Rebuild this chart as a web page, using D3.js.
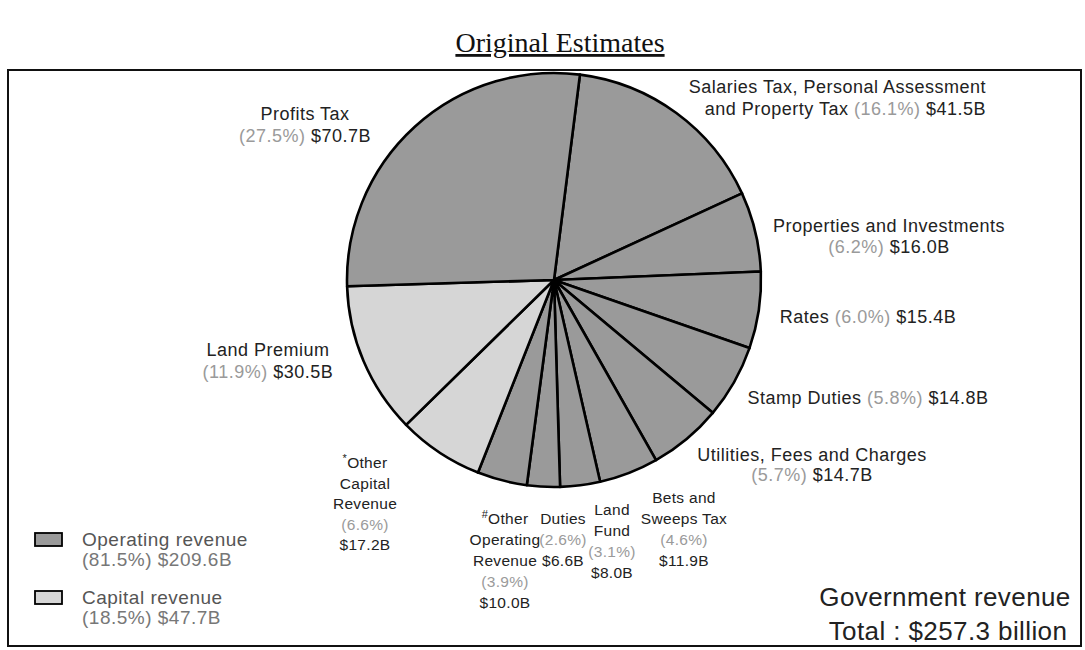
<!DOCTYPE html>
<html lang="en">
<head>
	<meta charset="UTF-8">
	<title>Original Estimates</title>
	<script src="https://cdn.jsdelivr.net/npm/d3@7"></script>
	<style>
		body { margin: 0; background: #fff; }
		text { font-family: Arial, "Liberation Sans", sans-serif; }
	</style>
</head>
<body>
	<div id="container"></div>
	<script>
		var width = 1085;
		var height = 650;

		// revenue items, clockwise from just right of 12 o'clock
		var items = ["Salaries Tax, Personal Assessment and Property Tax", "Properties and Investments", "Rates",
			"Stamp Duties", "Utilities, Fees and Charges", "Bets and Sweeps Tax", "Land Fund", "Duties",
			"#Other Operating Revenue", "*Other Capital Revenue", "Land Premium", "Profits Tax"];
		var amounts = [41.5, 16.0, 15.4, 14.8, 14.7, 11.9, 8.0, 6.6, 10.0, 17.2, 30.5, 70.7];
		var percents = [16.1, 6.2, 6.0, 5.8, 5.7, 4.6, 3.1, 2.6, 3.9, 6.6, 11.9, 27.5];
		var kinds = ["op", "op", "op", "op", "op", "op", "op", "op", "op", "cap", "cap", "op"];

		var groups = ["Operating revenue", "Capital revenue"];
		var groupPercents = [81.5, 18.5];
		var groupAmounts = [209.6, 47.7];

		var total = 257.3;

		// label layout: text lines per slice ({p}/{v} get filled in), placed by hand like the original
		var labelLines = [
			["Salaries Tax, Personal Assessment", "and Property Tax {p} {v}"],
			["Properties and Investments", "{p} {v}"],
			["Rates {p} {v}"],
			["Stamp Duties {p} {v}"],
			["Utilities, Fees and Charges", "{p} {v}"],
			["Bets and", "Sweeps Tax", "{p}", "{v}"],
			["Land", "Fund", "{p}", "{v}"],
			["Duties", "{p}", "{v}"],
			["#Other", "Operating", "Revenue", "{p}", "{v}"],
			["*Other", "Capital", "Revenue", "{p}", "{v}"],
			["Land Premium", "{p} {v}"],
			["Profits Tax", "{p} {v}"]
		];
		// [x, first baseline, line step, anchor, font size]
		var labelAt = [[986, 93, 22, "end", 18], [889, 232, 21, "middle", 18], [868, 323, 21, "middle", 18],
			[868, 404, 21, "middle", 18], [812, 461, 20, "middle", 18], [684, 503, 21, "middle", 15.5],
			[612, 515, 21, "middle", 15.5], [563, 524, 21, "middle", 15.5], [505, 524, 21, "middle", 15.5],
			[365, 468, 20.5, "middle", 15.5], [268, 356, 22, "middle", 18], [305, 120, 22, "middle", 18]];

		var fills = { op: "#9a9a9a", cap: "#d6d6d6" };

		var svg = d3.select("#container").append("svg")
			.attr("width", width)
			.attr("height", height);

		svg.append("rect")
			.attr("width", width).attr("height", height)
			.attr("fill", "#fff");

		// title
		svg.append("text")
			.attr("x", 560).attr("y", 52)
			.attr("text-anchor", "middle")
			.style("font-family", "'Liberation Serif', 'Times New Roman', serif")
			.style("font-size", "28px")
			.style("text-decoration", "underline")
			.attr("fill", "#111")
			.text("Original Estimates");

		// frame
		svg.append("rect")
			.attr("x", 8).attr("y", 70)
			.attr("width", 1073).attr("height", 576)
			.attr("fill", "none")
			.attr("stroke", "#111")
			.attr("stroke-width", 2);

		var cx = 554, cy = 280, r = 207;
		var start = 7.2 * Math.PI / 180;

		var pie = d3.pie().sort(null).value(d => d)
			.startAngle(start).endAngle(start + 2 * Math.PI);
		var arc = d3.arc().innerRadius(0).outerRadius(r);

		var g = svg.append("g").attr("transform", "translate(" + cx + "," + cy + ")");
		g.selectAll("path").data(pie(amounts))
			.enter().append("path")
				.attr("d", arc)
				.attr("fill", (d, i) => fills[kinds[i]])
				.attr("stroke", "#000")
				.attr("stroke-width", 2.6)
				.attr("stroke-linejoin", "round");

		// slice labels
		items.forEach((name, i) => {
			var L = labelAt[i];
			var t = svg.append("text")
				.attr("x", L[0]).attr("y", L[1])
				.attr("text-anchor", L[3])
				.style("font-size", L[4] + "px")
				.style("letter-spacing", L[4] > 16 ? "0.5px" : "0.3px")
				.attr("fill", "#222");
			labelLines[i].forEach((ln, k) => {
				var ts = t.append("tspan")
					.attr("x", L[0])
					.attr("dy", k == 0 ? 0 : L[2]);
				var parts = ln.split(/(\{p\}|\{v\})/);
				parts.forEach(p => {
					if (p == "") return;
					if (p == "{p}") ts.append("tspan").attr("fill", "#9a9a9a").text("(" + percents[i].toFixed(1) + "%)");
					else if (p == "{v}") ts.append("tspan").text("$" + amounts[i].toFixed(1) + "B");
					else if (p[0] == "*" || p[0] == "#") {
						// footnote mark sits raised and small
						ts.append("tspan").style("font-size", "11px").attr("dy", -6).text(p[0]);
						ts.append("tspan").attr("dy", 6).text(p.slice(1));
					}
					else ts.append("tspan").text(p);
				});
			});
		});

		// legend
		var leg = svg.selectAll(".legend").data(groups)
			.enter().append("g")
				.attr("class", "legend")
				.attr("transform", (d, i) => "translate(35," + (533 + i * 58) + ")");
		leg.append("rect")
			.attr("width", 27).attr("height", 13)
			.attr("fill", (d, i) => i == 0 ? fills.op : fills.cap)
			.attr("stroke", "#000").attr("stroke-width", 1.8);
		leg.append("text")
			.attr("x", 47).attr("y", 13)
			.style("font-size", "19px")
			.style("letter-spacing", "0.5px")
			.attr("fill", "#555")
			.text(d => d);
		leg.append("text")
			.attr("x", 47).attr("y", 33)
			.style("font-size", "19px")
			.style("letter-spacing", "0.5px")
			.attr("fill", "#777")
			.text((d, i) => "(" + groupPercents[i].toFixed(1) + "%) $" + groupAmounts[i].toFixed(1) + "B");

		// total
		svg.append("text")
			.attr("x", 945).attr("y", 606)
			.attr("text-anchor", "middle")
			.style("font-size", "26px")
			.style("letter-spacing", "0.4px")
			.attr("fill", "#222")
			.text("Government revenue");
		svg.append("text")
			.attr("x", 948).attr("y", 640)
			.attr("text-anchor", "middle")
			.style("font-size", "26px")
			.style("letter-spacing", "0.4px")
			.attr("fill", "#222")
			.text("Total : $" + total.toFixed(1) + " billion");
	</script>
</body>
</html>
